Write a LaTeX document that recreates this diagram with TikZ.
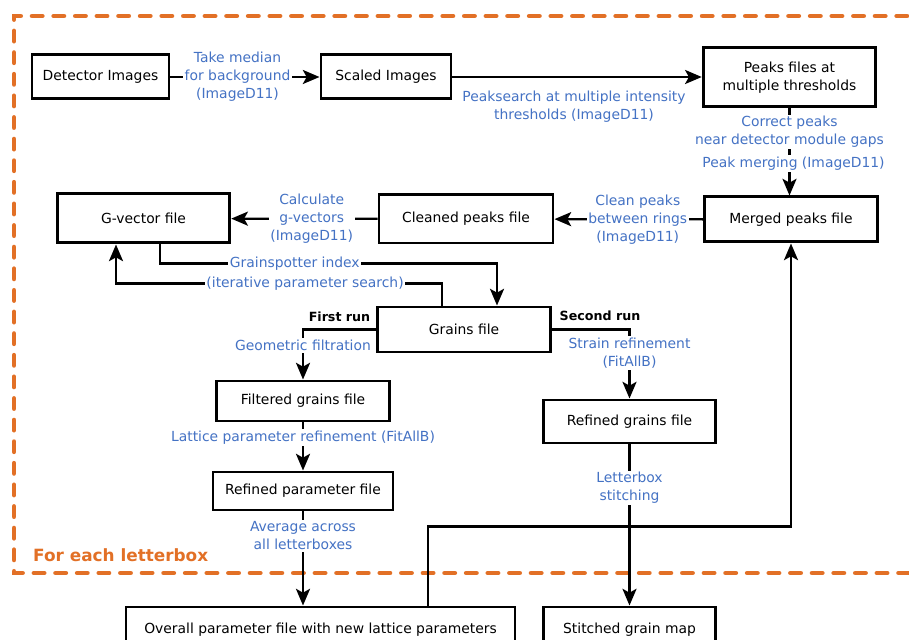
\documentclass[tikz,border=0pt]{standalone}
\usepackage{fontspec}
\setmainfont{DejaVu Sans}
\usetikzlibrary{arrows.meta}
\definecolor{stepblue}{RGB}{68,114,196}
\definecolor{boxorange}{RGB}{226,112,38}

\begin{document}
\begin{tikzpicture}[
        font=\fontsize{7.9}{10.2}\selectfont,
        box/.style={draw, line width=1.7pt, minimum width=3.45cm, minimum height=0.9cm, align=center, inner sep=2pt},
        lbl/.style={text=stepblue, fill=white, align=center, inner sep=1pt},
        arr/.style={line width=1.3pt, -{Stealth[length=9.5pt,width=8pt,inset=2.2pt]}},
        run/.style={font=\fontsize{7.2}{9}\selectfont\bfseries},
        letterbox/.style={draw=boxorange, line width=2.8pt, line cap=round, dash pattern=on 5.7pt off 6.6pt}
    ]
        \useasboundingbox (0,0) rectangle (18.18,-12.8);
        \clip (0,0) rectangle (18.18,-12.8);

        % Riquadro
        \draw[letterbox] (19,-0.32) -- (0.28,-0.32) -- (0.28,-11.46) -- (19,-11.46);
        \node[text=boxorange, font=\fontsize{9.6}{11}\selectfont\bfseries, anchor=west] (each) at (0.54,-11.1) {For each letterbox};

        % Nodi
        \node[box, minimum width=2.74cm, minimum height=0.88cm] (det) at (2.01,-1.54) {Detector Images};
        \node[box, minimum width=2.6cm, minimum height=0.88cm] (scaled) at (7.72,-1.54) {Scaled Images};
        \node[box, minimum height=1.18cm] (peaks) at (15.79,-1.55) {Peaks files at\\multiple thresholds};
        \node[box] (merged) at (15.82,-4.39) {Merged peaks file};
        \node[box, minimum width=3.48cm, minimum height=0.96cm] (cleaned) at (9.32,-4.38) {Cleaned peaks file};
        \node[box, minimum height=0.98cm] (gvec) at (2.87,-4.37) {G-vector file};
        \node[box] (grains) at (9.28,-6.59) {Grains file};
        \node[box, minimum height=0.8cm] (filtered) at (6.06,-8.02) {Filtered grains file};
        \node[box, minimum width=3.6cm, minimum height=0.76cm] (refpar) at (6.06,-9.82) {Refined parameter file};
        \node[box, minimum height=0.86cm] (refgr) at (12.59,-8.43) {Refined grains file};
        \node[box, minimum width=7.78cm] (overall) at (6.41,-12.59) {Overall parameter file with new lattice parameters};
        \node[box] (stitched) at (12.59,-12.59) {Stitched grain map};

        \node[run] (first) at (6.79,-6.34) {First run};
        \node[run] (second) at (12.0,-6.32) {Second run};
        \node[lbl] (search) at (11.48,-2.13) {Peaksearch at multiple intensity\\thresholds (ImageD11)};

        % Frecce
        \draw[arr] (det) -- node[lbl, pos=0.45] {Take median\\for background\\(ImageD11)} (scaled);
        \draw[arr] (scaled.east) -- (scaled.east -| peaks.west);
        \draw[arr] (peaks.south) -- node[lbl, pos=0.27] {Correct peaks\\near detector module gaps}
            node[lbl, pos=0.63, xshift=0.08cm] {Peak merging (ImageD11)} (peaks.south |- merged.north);
        \draw[arr] (merged) -- node[lbl, pos=0.44] {Clean peaks\\between rings\\(ImageD11)} (cleaned);
        \draw[arr] (cleaned) -- node[lbl, pos=0.45] {Calculate\\g-vectors\\(ImageD11)} (gvec);

        \draw[arr] ([xshift=0.33cm]gvec.south) |- node[lbl, pos=0.7] {Grainspotter index}
            ([xshift=0.66cm, yshift=0.84cm]grains.north) -- ([xshift=0.66cm]grains.north);
        \draw[arr] ([xshift=-0.44cm]grains.north) |- node[lbl, pos=0.71] {(iterative parameter search)}
            ([xshift=-0.55cm, yshift=-0.78cm]gvec.south) -- ([xshift=-0.55cm]gvec.south);

        \draw[arr] (grains.west) -| node[lbl, pos=0.66] {Geometric filtration} (filtered);
        \draw[arr] (grains.east) -| node[lbl, pos=0.67] {Strain refinement\\(FitAllB)} (refgr);
        \draw[arr] (filtered) -- node[lbl, pos=0.31] {Lattice parameter refinement (FitAllB)} (refpar);
        \draw[arr] (refpar) -- node[lbl, pos=0.26] {Average across\\all letterboxes} (refpar |- overall.north);
        \draw[arr] (refgr) -- node[lbl, pos=0.27] {Letterbox\\stitching} (stitched);

        \draw[arr] ([xshift=2.15cm]overall.north) -- ++(0,1.58) -| (merged);
    \end{tikzpicture}
\end{document}
